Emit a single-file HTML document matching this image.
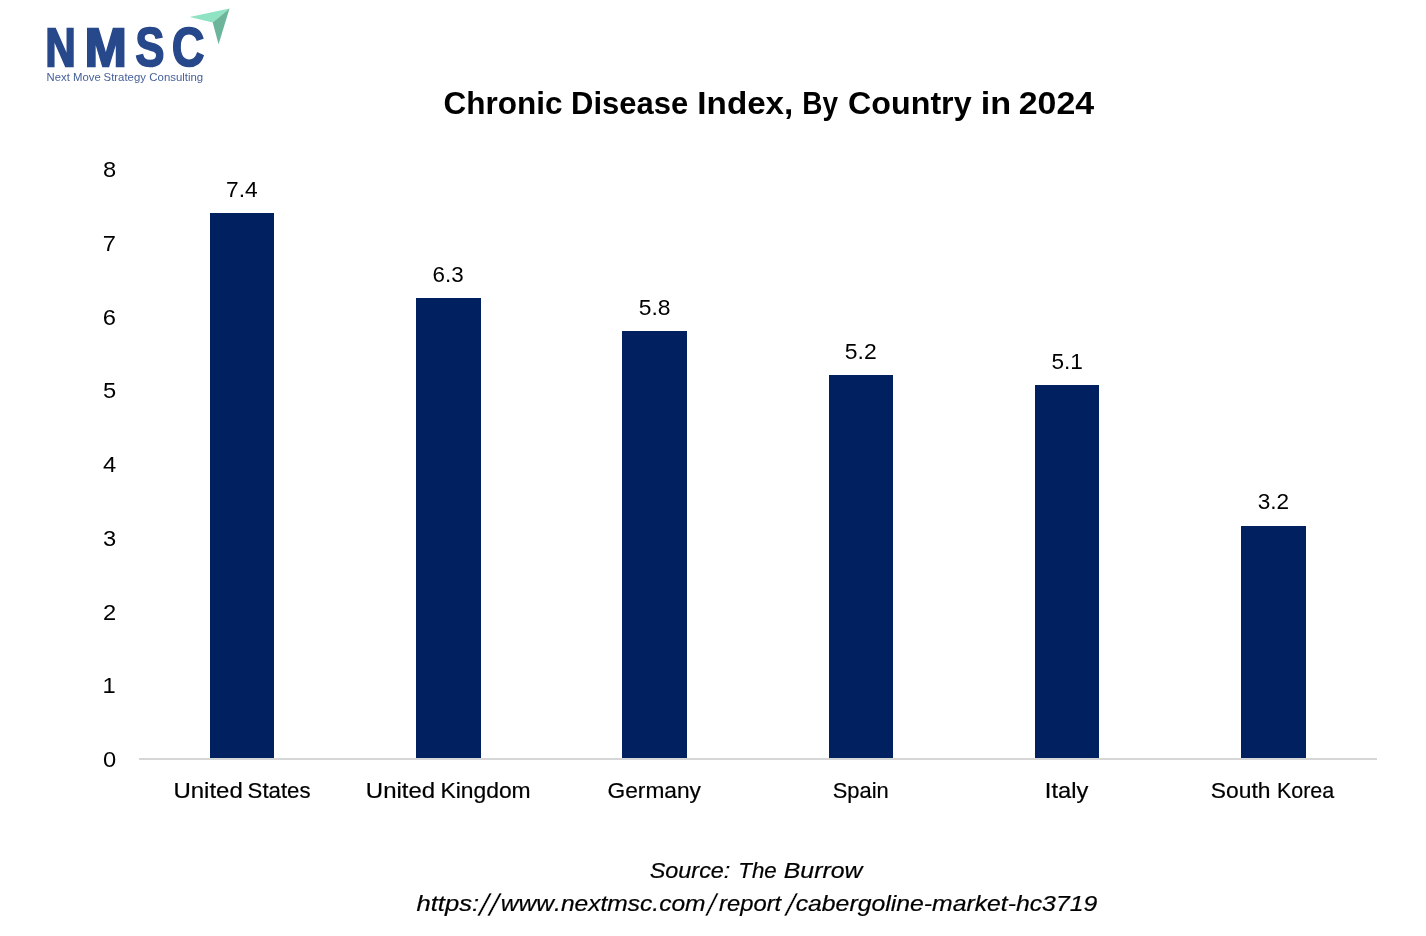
<!DOCTYPE html>
<html lang="en">
<head>
<meta charset="utf-8">
<title>Chronic Disease Index, By Country in 2024</title>
<style>
html,body{margin:0;padding:0;background:#fff;}
body{width:1426px;height:936px;overflow:hidden;}
svg{display:block;}
text{font-family:"Liberation Sans",sans-serif;white-space:pre;font-kerning:none;}
.ttl{font-size:30.8px;font-weight:bold;fill:#000;}
.lbl{font-size:22.6px;fill:#000;}
.cat{font-size:21.7px;fill:#000;stroke:#000;stroke-width:0.2px;}
.src{font-size:21.9px;font-style:italic;fill:#000;stroke:#000;stroke-width:0.2px;}
.sl{stroke:#fff;stroke-width:0.5px;}
.logo{font-weight:bold;font-size:55.5px;fill:#27488a;stroke:#27488a;stroke-width:1.6px;stroke-linejoin:miter;}
.tag{font-size:10.2px;fill:#46609a;}
</style>
</head>
<body>
<svg width="1426" height="936" viewBox="0 0 1426 936">
<rect width="1426" height="936" fill="#ffffff"/>

<g id="logo">
<text class="logo"><tspan x="45.51" y="66.1" font-size="54.4" stroke-width="2.4" textLength="30.1" lengthAdjust="spacingAndGlyphs">N</tspan><tspan x="84.63" y="66.1" font-size="54.4" stroke-width="2.4" textLength="41.94" lengthAdjust="spacingAndGlyphs">M</tspan><tspan x="135.34" y="65.8" font-size="55.5" stroke-width="1.6" textLength="29.28" lengthAdjust="spacingAndGlyphs">S</tspan><tspan x="171.74" y="65.8" font-size="55.5" stroke-width="1.6" textLength="32.69" lengthAdjust="spacingAndGlyphs">C</tspan></text>
<polygon points="189.6,17.1 229.5,8.5 212.7,22.6" fill="#8fe3c3"/>
<polygon points="229.5,8.5 218.6,44.3 212.7,22.6" fill="#6cb59b"/>
<text class="tag"><tspan x="46.57" y="80.9" textLength="23.21" lengthAdjust="spacingAndGlyphs">Next</tspan> <tspan x="73.07" y="80.9" textLength="27.73" lengthAdjust="spacingAndGlyphs">Move</tspan> <tspan x="103.58" y="80.9" textLength="42.34" lengthAdjust="spacingAndGlyphs">Strategy</tspan> <tspan x="149.32" y="80.9" textLength="53.91" lengthAdjust="spacingAndGlyphs">Consulting</tspan></text>
</g>
<text class="ttl"><tspan x="443.41" y="114.3" textLength="119.02" lengthAdjust="spacingAndGlyphs">Chronic</tspan> <tspan x="571.03" y="114.3" textLength="117.13" lengthAdjust="spacingAndGlyphs">Disease</tspan> <tspan x="697.38" y="114.3" textLength="95.94" lengthAdjust="spacingAndGlyphs">Index,</tspan> <tspan x="802.23" y="114.3" textLength="35.72" lengthAdjust="spacingAndGlyphs">By</tspan> <tspan x="848.08" y="114.3" textLength="123.49" lengthAdjust="spacingAndGlyphs">Country</tspan> <tspan x="980.71" y="114.3" textLength="30.41" lengthAdjust="spacingAndGlyphs">in</tspan> <tspan x="1018.72" y="114.3" textLength="75.46" lengthAdjust="spacingAndGlyphs">2024</tspan></text>
<g id="yaxis">
<text class="lbl" x="102.9" y="177.2" textLength="13.2" lengthAdjust="spacingAndGlyphs">8</text>
<text class="lbl" x="102.89" y="250.9" textLength="13.2" lengthAdjust="spacingAndGlyphs">7</text>
<text class="lbl" x="102.82" y="324.6" textLength="13.2" lengthAdjust="spacingAndGlyphs">6</text>
<text class="lbl" x="102.92" y="398.4" textLength="13.2" lengthAdjust="spacingAndGlyphs">5</text>
<text class="lbl" x="102.98" y="472.1" textLength="13.2" lengthAdjust="spacingAndGlyphs">4</text>
<text class="lbl" x="102.97" y="545.8" textLength="13.2" lengthAdjust="spacingAndGlyphs">3</text>
<text class="lbl" x="102.9" y="619.5" textLength="13.2" lengthAdjust="spacingAndGlyphs">2</text>
<text class="lbl" x="102.58" y="693.2" textLength="13.2" lengthAdjust="spacingAndGlyphs">1</text>
<text class="lbl" x="102.9" y="766.9" textLength="13.2" lengthAdjust="spacingAndGlyphs">0</text>
</g>
<g fill="#002060">
<rect x="210" y="213" width="64" height="545"/>
<rect x="416" y="298" width="65" height="460"/>
<rect x="622" y="331" width="65" height="427"/>
<rect x="829" y="375" width="64" height="383"/>
<rect x="1035" y="385" width="64" height="373"/>
<rect x="1241" y="526" width="65" height="232"/>
</g>
<rect x="139" y="758" width="1238" height="2" fill="#d6d6d6"/>
<g id="values">
<text class="lbl" x="226.03" y="196.7" textLength="31.63" lengthAdjust="spacingAndGlyphs">7.4</text>
<text class="lbl" x="432.56" y="281.6" textLength="31.12" lengthAdjust="spacingAndGlyphs">6.3</text>
<text class="lbl" x="638.78" y="314.5" textLength="31.81" lengthAdjust="spacingAndGlyphs">5.8</text>
<text class="lbl" x="844.88" y="358.7" textLength="31.87" lengthAdjust="spacingAndGlyphs">5.2</text>
<text class="lbl" x="1051.5" y="368.6" textLength="31.41" lengthAdjust="spacingAndGlyphs">5.1</text>
<text class="lbl" x="1257.74" y="509.4" textLength="31.4" lengthAdjust="spacingAndGlyphs">3.2</text>
</g>
<g id="categories">
<text class="cat"><tspan x="173.45" y="798.2" textLength="69.4" lengthAdjust="spacingAndGlyphs">United</tspan> <tspan x="247.59" y="798.2" textLength="62.91" lengthAdjust="spacingAndGlyphs">States</tspan></text>
<text class="cat"><tspan x="365.85" y="798.2" textLength="69.29" lengthAdjust="spacingAndGlyphs">United</tspan> <tspan x="440.42" y="798.2" textLength="90.28" lengthAdjust="spacingAndGlyphs">Kingdom</tspan></text>
<text class="cat"><tspan x="607.56" y="798.2" textLength="93.39" lengthAdjust="spacingAndGlyphs">Germany</tspan></text>
<text class="cat"><tspan x="832.71" y="798.2" textLength="56.02" lengthAdjust="spacingAndGlyphs">Spain</tspan></text>
<text class="cat"><tspan x="1044.87" y="798.2" textLength="43.38" lengthAdjust="spacingAndGlyphs">Italy</tspan></text>
<text class="cat"><tspan x="1210.86" y="798.2" textLength="59.72" lengthAdjust="spacingAndGlyphs">South</tspan> <tspan x="1276.94" y="798.2" textLength="57.26" lengthAdjust="spacingAndGlyphs">Korea</tspan></text>
</g>
<text class="src"><tspan x="649.74" y="878.2" textLength="80.6" lengthAdjust="spacingAndGlyphs">Source:</tspan> <tspan x="738.3" y="878.2" textLength="38.43" lengthAdjust="spacingAndGlyphs">The</tspan> <tspan x="783.84" y="878.2" textLength="78.53" lengthAdjust="spacingAndGlyphs">Burrow</tspan></text>
<text class="src"><tspan x="416.47" y="911.2" textLength="62.75" lengthAdjust="spacingAndGlyphs">https:</tspan><tspan x="478.94" y="915.6" class="sl" font-size="30.7" textLength="20.05" lengthAdjust="spacingAndGlyphs">//</tspan><tspan x="500.88" y="911.2" textLength="204.66" lengthAdjust="spacingAndGlyphs">www.nextmsc.com</tspan><tspan x="706.87" y="915.6" class="sl" font-size="30.7" textLength="9.19" lengthAdjust="spacingAndGlyphs">/</tspan><tspan x="719.11" y="911.2" textLength="62.07" lengthAdjust="spacingAndGlyphs">report</tspan><tspan x="785.85" y="915.6" class="sl" font-size="30.7" textLength="9.58" lengthAdjust="spacingAndGlyphs">/</tspan><tspan x="795.69" y="911.2" textLength="301.52" lengthAdjust="spacingAndGlyphs">cabergoline-market-hc3719</tspan></text>
</svg>
</body>
</html>
